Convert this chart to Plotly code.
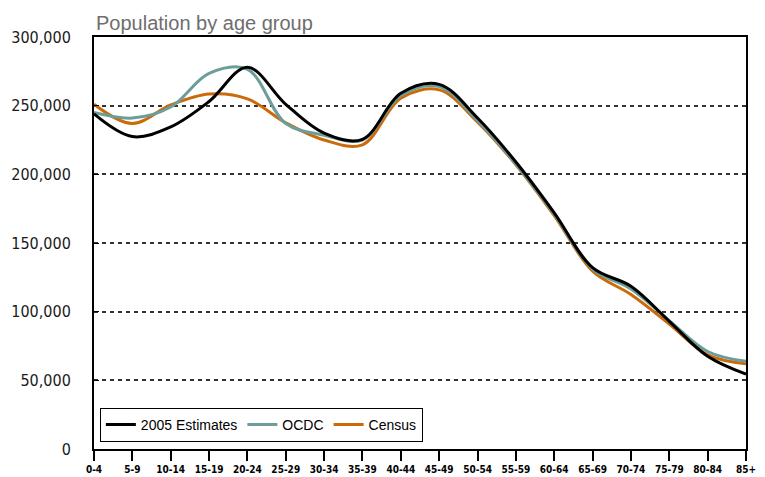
import plotly.graph_objects as go

age_groups = ["0-4", "5-9", "10-14", "15-19", "20-24", "25-29", "30-34", "35-39",
              "40-44", "45-49", "50-54", "55-59", "60-64", "65-69", "70-74", "75-79",
              "80-84", "85+"]

estimates_2005 = [244000, 227500, 234500, 253000, 278000, 251000, 230000, 225500,
                  259000, 265500, 241000, 209000, 172000, 132000, 118500, 93000,
                  67500, 54500]
ocdc = [245000, 241000, 249000, 273500, 276500, 237000, 228500, 225000,
        257500, 264000, 239000, 207500, 171000, 131000, 116500, 93500,
        71000, 63800]
census = [251000, 237000, 250500, 258500, 255000, 237500, 225000, 221500,
          255500, 261500, 238000, 207000, 170000, 129500, 112500, 91000,
          68500, 62000]

y_ticks = [0, 50000, 100000, 150000, 200000, 250000, 300000]
y_tick_labels = ["0", "50,000", "100,000", "150,000", "200,000", "250,000", "300,000"]

series = [
    ("Census", census, "#cc6a0a"),
    ("OCDC", ocdc, "#6b9e9b"),
    ("2005 Estimates", estimates_2005, "#000000"),
]

fig = go.Figure()
for name, vals, color in series:
    fig.add_trace(go.Scatter(
        x=age_groups, y=vals, name=name, mode="lines",
        line=dict(color=color, width=3, shape="spline", smoothing=1.0),
    ))

# The page body has an 8px margin, so the figure is sized to fit the window.
fig.update_layout(
    width=757, height=469,
    margin=dict(l=86, r=19, t=29, b=28),
    paper_bgcolor="white", plot_bgcolor="white",
    showlegend=True,
    legend=dict(
        orientation="h", x=0.009, y=0.017, xanchor="left", yanchor="bottom",
        bgcolor="white", bordercolor="#000000", borderwidth=1,
        font=dict(family="Liberation Sans, Arial, sans-serif", size=14, color="#000000"),
        traceorder="reversed", itemwidth=30, tracegroupgap=0,
    ),
    annotations=[dict(
        text="Population by age group", xref="paper", yref="paper",
        x=0.0, y=1.0, xanchor="left", yanchor="bottom", yshift=1, showarrow=False,
        font=dict(family="Liberation Sans, Arial, sans-serif", size=20, color="#6e6e6e"),
    )],
)

fig.update_xaxes(
    type="category", categoryorder="array", categoryarray=age_groups,
    range=[0, len(age_groups) - 1], automargin=False,
    showline=True, linecolor="#000000", linewidth=2, mirror=True,
    ticks="outside", ticklen=10, tickcolor="#000000", tickwidth=2,
    showgrid=False, zeroline=False,
    tickfont=dict(family="DejaVu Sans Condensed, sans-serif", size=10,
                  color="#000000", weight="bold"),
    tickangle=0,
)
fig.update_yaxes(
    range=[0, 300000], tickvals=y_ticks, ticktext=y_tick_labels, automargin=False,
    showline=True, linecolor="#000000", linewidth=2, mirror=True,
    ticks="inside", ticklen=5, tickcolor="#000000", tickwidth=1,
    showgrid=True, gridcolor="#333333", gridwidth=1.5, griddash="4px,4px",
    zeroline=False, ticklabelstandoff=18,
    tickfont=dict(family="DejaVu Sans Condensed, sans-serif", size=16, color="#1a1a1a"),
)

fig.write_html("out.html")
